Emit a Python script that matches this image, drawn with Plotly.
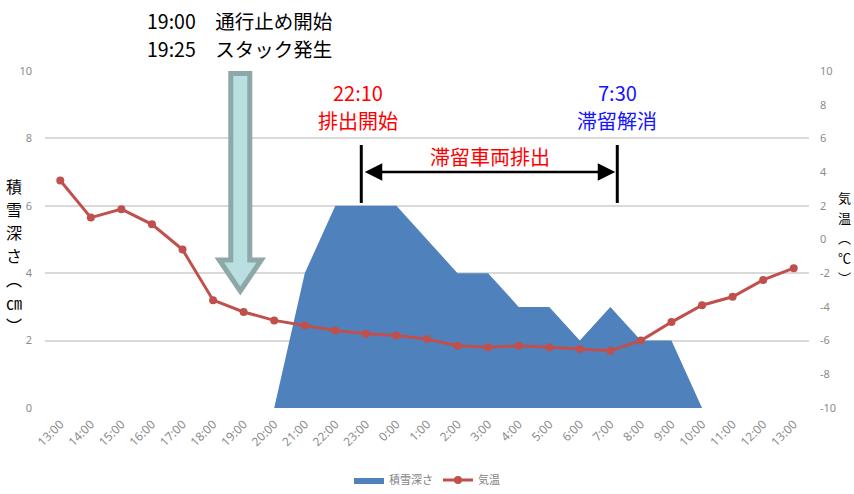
import plotly.graph_objects as go

times = ["13:00","14:00","15:00","16:00","17:00","18:00","19:00","20:00","21:00","22:00","23:00",
         "0:00","1:00","2:00","3:00","4:00","5:00","6:00","7:00","8:00","9:00","10:00","11:00","12:00","13:00"]
snow = [0,0,0,0,0,0,0,0,4,6,6,6,5,4,4,3,3,2,3,2,2,0,0,0,0]
temp = [3.5,1.3,1.8,0.9,-0.6,-3.6,-4.3,-4.8,-5.1,-5.4,-5.6,-5.7,-5.9,-6.3,-6.4,-6.3,-6.4,-6.5,-6.6,-6.0,-4.9,-3.9,-3.4,-2.4,-1.7]
left_ticks = [0, 2, 4, 6, 8, 10]
right_ticks = [-10, -8, -6, -4, -2, 0, 2, 4, 6, 8, 10]
xi = list(range(len(times)))

JP = "Noto Sans CJK JP"
TICK = dict(family="Noto Sans", size=11, color="#8c8c8c")

fig = go.Figure()
fig.add_trace(go.Scatter(x=xi, y=snow, name="積雪深さ", mode="lines", fill="tozeroy",
                         line=dict(width=0, color="#4f81bd"), fillcolor="#4f81bd"))
fig.add_trace(go.Scatter(x=xi, y=temp, name="気温", mode="lines+markers", yaxis="y2",
                         line=dict(width=3, color="#c0504d"),
                         marker=dict(size=8, color="#c0504d")))

PL, PR, PT, PB = 45, 809, 71, 408   # plot area in pixels
W, H = 854, 494

def px2x(p):
    return (p - 60) / 30.56
def px2y(p):
    return (PB - p) / 33.7
def ppx(p):
    return (p - PL) / (PR - PL)
def ppy(p):
    return (PB - p) / (PB - PT)

anns = []
def txt(x, y, s, color, size=20, xanchor="center"):
    anns.append(dict(x=ppx(x), y=ppy(y), xref="paper", yref="paper", text=s, showarrow=False,
                     xanchor=xanchor, yanchor="middle", font=dict(family=JP, size=size, color=color)))

txt(145, 21, "19:00　通行止め開始", "black", size=19.5, xanchor="left")
txt(145, 49, "19:25　スタック発生", "black", size=19.5, xanchor="left")
txt(358, 92, "22:10", "#ff0000")
txt(358, 120, "排出開始", "#ff0000")
txt(617, 92, "7:30", "#1414ff")
txt(617, 120, "滞留解消", "#1414ff")
txt(490, 156, "滞留車両排出", "#ff0000")

# double arrow
anns.append(dict(x=px2x(615), y=px2y(172), ax=px2x(363), ay=px2y(172), xref="x", yref="y",
                 axref="x", ayref="y", text="", showarrow=True, arrowside="end+start",
                 arrowhead=2, arrowsize=1.4, arrowwidth=2.5, arrowcolor="black",
                 standoff=0, startstandoff=0))

# vertical axis titles (one glyph per annotation)
for ch, yc in zip(["積", "雪", "深", "さ", "︵", "㎝", "︶"], [186, 209, 232, 255, 279, 302, 325]):
    txt(14, yc, ch, "black", size=16)
for ch, yc in zip(["気", "温", "︵", "℃", "︶"], [197, 217, 237, 257, 277]):
    txt(853, yc, ch, "black", size=13, xanchor="right")

shapes = []
for xp in (361, 617):
    shapes.append(dict(type="line", xref="x", yref="y", x0=px2x(xp), x1=px2x(xp),
                       y0=px2y(203), y1=px2y(145), line=dict(color="black", width=3)))
# block arrow
sx0, sx1 = px2x(230.5), px2x(249.5)
hx0, hx1 = px2x(219), px2x(261)
tx = px2x(240)
ytop, yhead, ytip = px2y(73.5), px2y(260), px2y(291)
path = (f"M {sx0},{ytop} L {sx1},{ytop} L {sx1},{yhead} L {hx1},{yhead} L {tx},{ytip} "
        f"L {hx0},{yhead} L {sx0},{yhead} Z")
shapes.append(dict(type="path", xref="x", yref="y", path=path, fillcolor="#b9dfe1",
                   line=dict(color="#8ea7a8", width=5)))

fig.update_layout(
    width=W, height=H,
    margin=dict(l=PL, r=W - PR, t=PT, b=H - PB, autoexpand=False),
    paper_bgcolor="white", plot_bgcolor="white",
    showlegend=True,
    legend=dict(orientation="h", x=0.5, xanchor="center", y=ppy(480), yanchor="middle",
                itemwidth=30, font=dict(family=JP, size=11, color="#7f7f7f")),
    xaxis=dict(range=[-0.5, 24.5], tickvals=xi, ticktext=times, tickangle=-45,
               tickfont=dict(family="Noto Sans", size=12, color="#8c8c8c"),
               showgrid=False, zeroline=False, showline=False, ticks="", ticklabelstandoff=6),
    yaxis=dict(range=[0, 10], tickvals=left_ticks, ticktext=[str(v) for v in left_ticks],
               tickfont=TICK, showgrid=True, gridcolor="#d9d9d9",
               gridwidth=1.5, zeroline=False, showline=False, ticks="", ticklabelstandoff=12),
    yaxis2=dict(range=[-10, 10], tickvals=right_ticks, ticktext=[str(v) for v in right_ticks],
                overlaying="y", side="right", tickfont=TICK,
                showgrid=False, zeroline=False, showline=False, ticks="", ticklabelstandoff=10),
    annotations=anns, shapes=shapes,
)

fig.write_html("out.html", config={"displayModeBar": False},
               post_script="document.body.style.margin='0';")
